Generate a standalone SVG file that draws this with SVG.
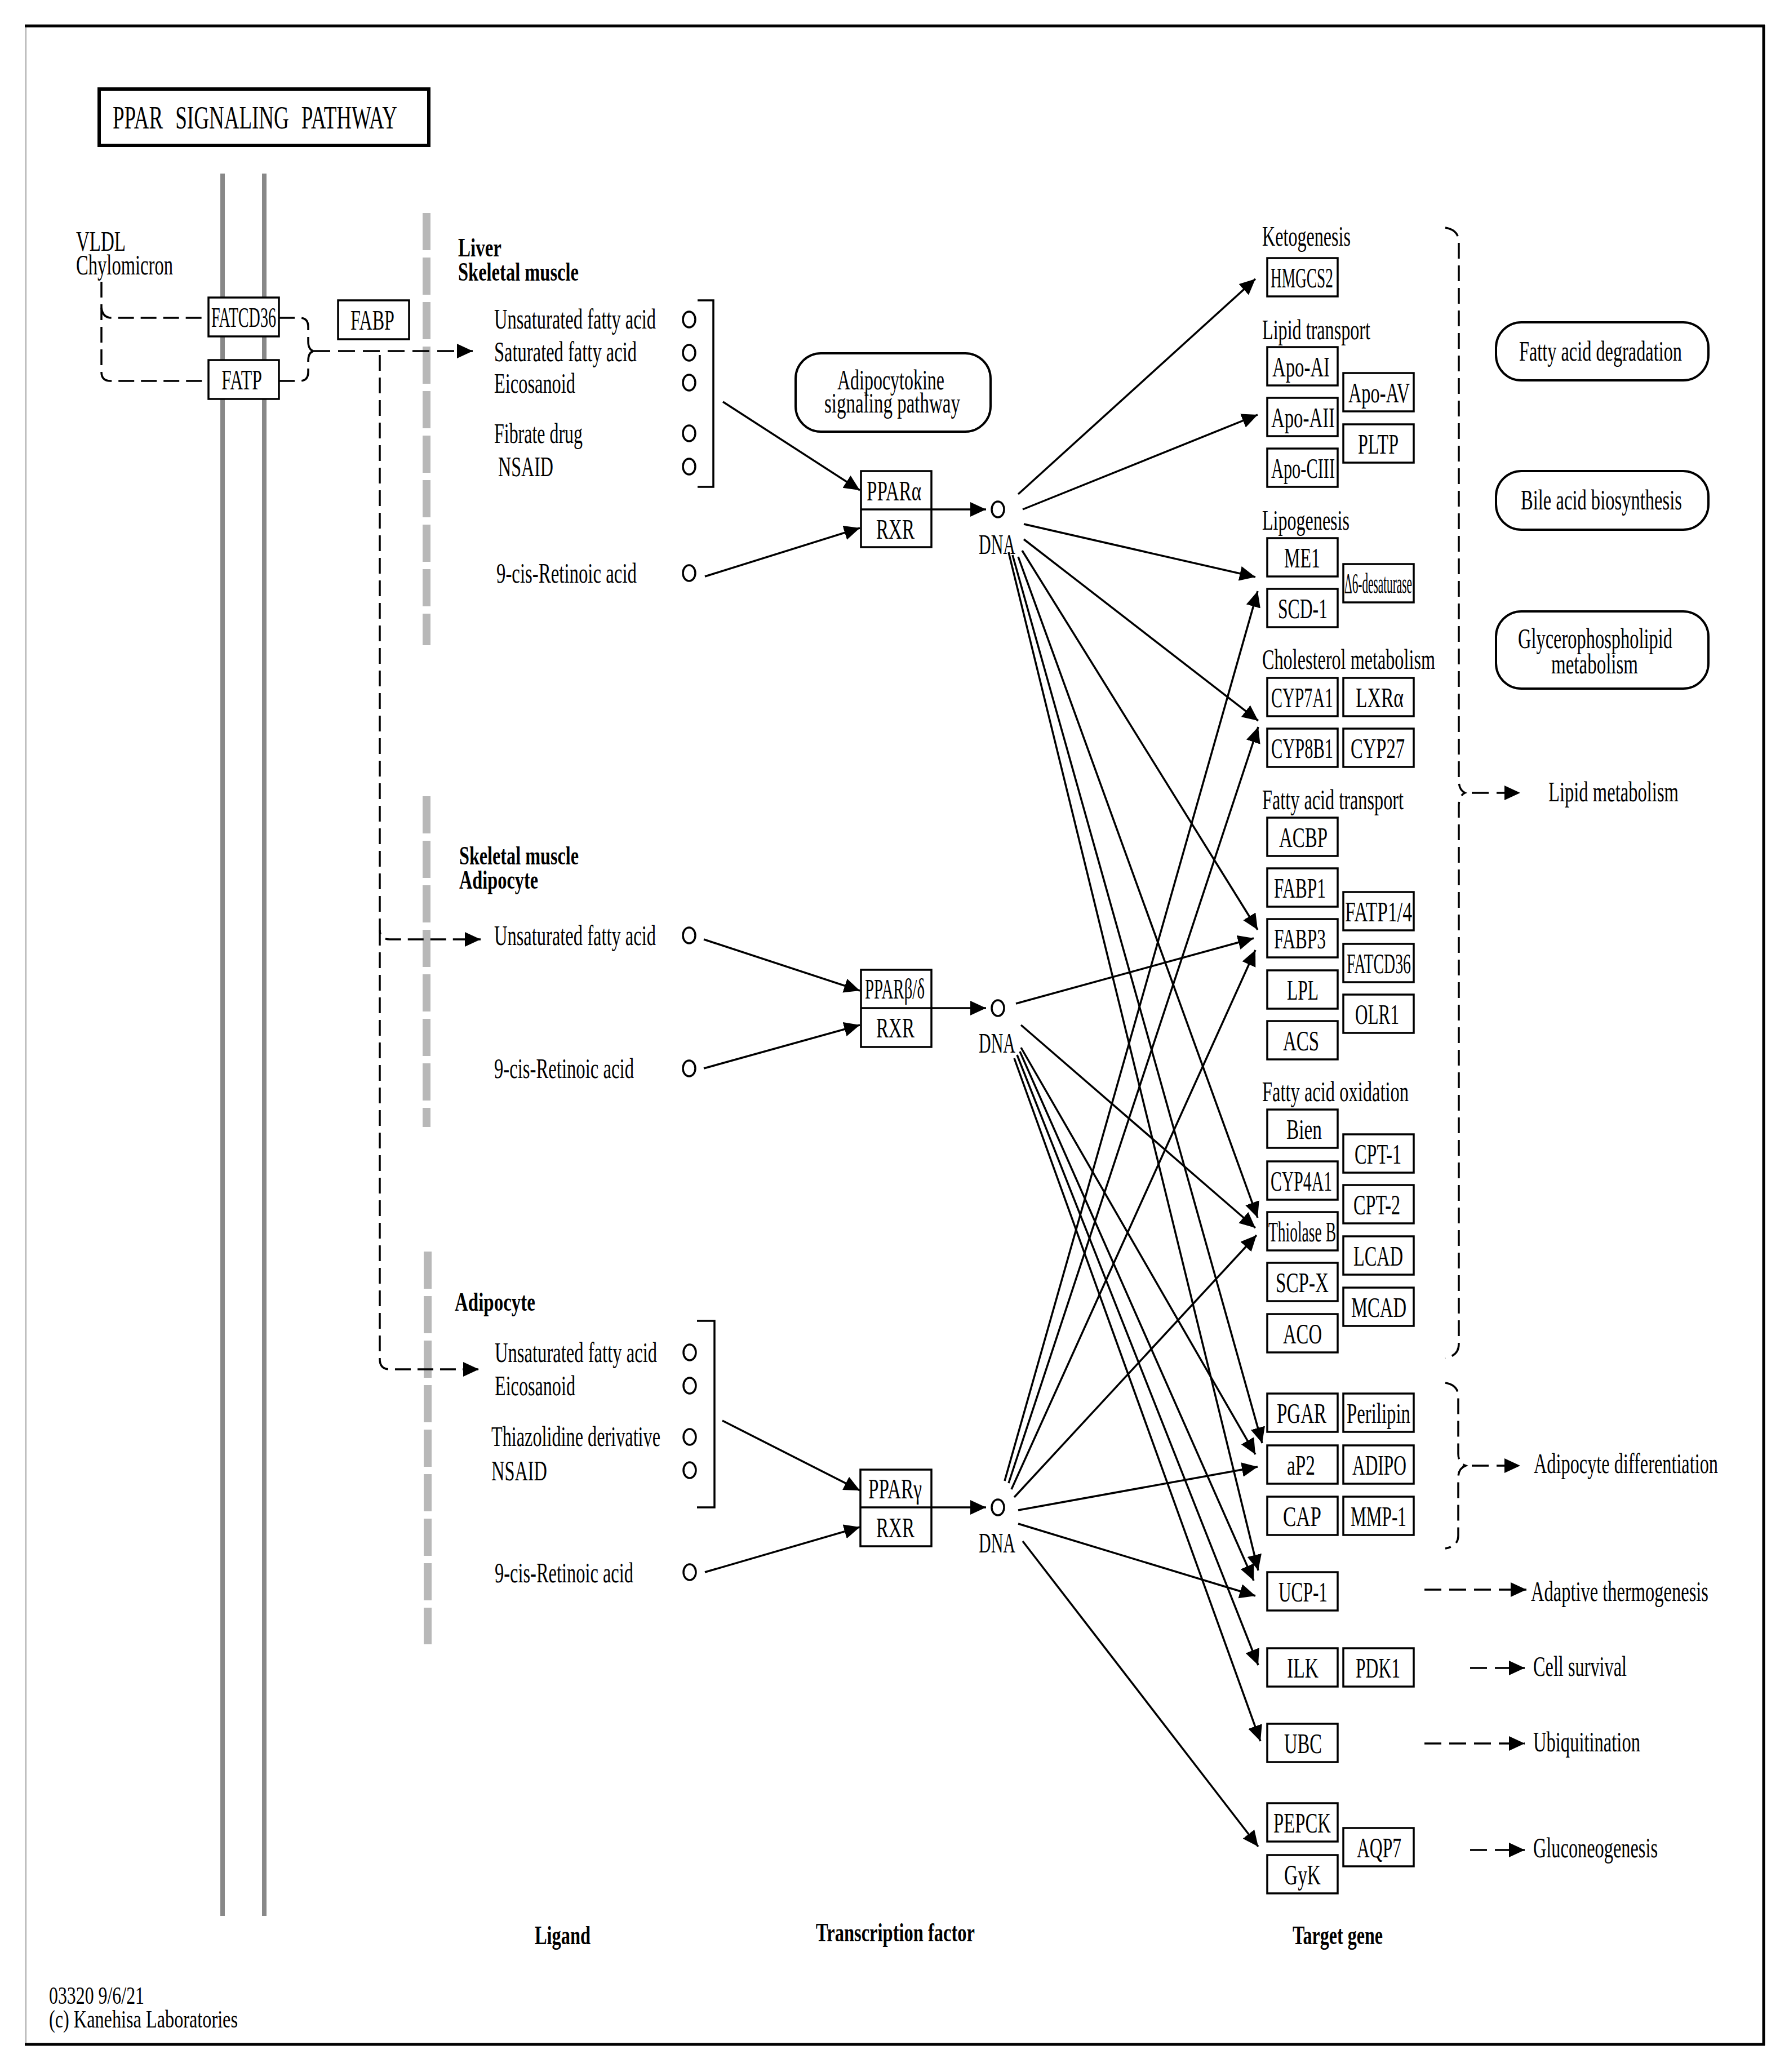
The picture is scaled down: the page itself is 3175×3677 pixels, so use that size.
<svg xmlns="http://www.w3.org/2000/svg" width="3175" height="3677" viewBox="0 0 3175 3677">
<style>
text{font-family:"Liberation Serif","Times New Roman",serif;font-size:50px;fill:#000}
.b{font-weight:bold;font-size:47px}
.tt{font-size:58px}
.box{fill:#fff;stroke:#000;stroke-width:3.5}
.rbox{fill:#fff;stroke:#000;stroke-width:4}
.ln{stroke:#000;stroke-width:3.5;fill:none;marker-end:url(#ah)}
.dl{stroke:#000;stroke-width:3.5;fill:none;stroke-dasharray:28 12}
.dla{stroke:#000;stroke-width:3.5;fill:none;stroke-dasharray:30 14;marker-end:url(#ah)}
.cir{fill:#fff;stroke:#000;stroke-width:3.5}
.mem{stroke:#888;stroke-width:8}
.cmp{stroke:#b8b8b8;stroke-width:14;stroke-dasharray:66 13}
</style>
<defs>
<marker id="ah" markerUnits="userSpaceOnUse" markerWidth="30" markerHeight="28" refX="28" refY="13" orient="auto"><path d="M0,0 L28,13 L0,26 z" fill="#000"/></marker>
</defs>
<rect x="0" y="0" width="3175" height="3677" fill="#fff"/>
<g id="frame">
<line x1="46" y1="46" x2="46" y2="3628" stroke="#aaa" stroke-width="2"/>
<line x1="44" y1="46" x2="3132" y2="46" stroke="#000" stroke-width="5"/>
<line x1="3130" y1="44" x2="3130" y2="3630" stroke="#000" stroke-width="5"/>
<line x1="44" y1="3628" x2="3132" y2="3628" stroke="#000" stroke-width="5"/>
</g>
<g id="title">
<rect x="176" y="158" width="585" height="100" fill="#fff" stroke="#000" stroke-width="6"/>
<text class="tt" x="200" y="228" textLength="505" lengthAdjust="spacingAndGlyphs" word-spacing="20">PPAR SIGNALING PATHWAY</text>
</g>
<g id="membrane">
<line class="mem" x1="395" y1="308" x2="395" y2="3400"/>
<line class="mem" x1="469" y1="308" x2="469" y2="3400"/>
</g>
<g id="compartments">
<line class="cmp" x1="757" y1="378" x2="757" y2="1145"/>
<line class="cmp" x1="757" y1="1413" x2="757" y2="2000"/>
<line class="cmp" x1="759" y1="2221" x2="759" y2="2918"/>
</g>
<g id="connectors">
<path class="dl" d="M180,500 V660 Q180,676 196,676 H370"/>
<path class="dl" d="M180,546 Q182,564 198,564 H370"/>
<path class="dl" d="M495,564 H532 Q547,564 547,580 V606 Q547,620 556,623"/>
<path class="dl" d="M495,676 H532 Q547,676 547,660 V640 Q547,626 556,623"/>
<line class="dla" x1="556" y1="623" x2="839" y2="623" stroke-width="4"/>
<path class="dl" d="M674,630 V1650 Q674,1667 692,1667 H853" marker-end="url(#ah)"/>
<path class="dl" d="M674,1650 V2412 Q674,2430 692,2430 H850" marker-end="url(#ah)"/>
<line class="ln" x1="1283" y1="713" x2="1526" y2="870"/>
<line class="ln" x1="1251" y1="1023" x2="1526" y2="937"/>
<line class="ln" x1="1653" y1="904" x2="1750" y2="904"/>
<line class="ln" x1="1249" y1="1667" x2="1526" y2="1758"/>
<line class="ln" x1="1249" y1="1896" x2="1526" y2="1819"/>
<line class="ln" x1="1653" y1="1789" x2="1750" y2="1789"/>
<line class="ln" x1="1282" y1="2521" x2="1526" y2="2645"/>
<line class="ln" x1="1251" y1="2790" x2="1526" y2="2710"/>
<line class="ln" x1="1653" y1="2675" x2="1750" y2="2675"/>
<line class="ln" x1="1807" y1="877" x2="2228" y2="495"/>
<line class="ln" x1="1815" y1="904" x2="2232" y2="736"/>
<line class="ln" x1="1817" y1="930" x2="2228" y2="1024"/>
<line class="ln" x1="1817" y1="957" x2="2233" y2="1279"/>
<line class="ln" x1="1814" y1="977" x2="2232" y2="1650"/>
<line class="ln" x1="1807" y1="988" x2="2232" y2="2161"/>
<line class="ln" x1="1797" y1="985" x2="2240" y2="2561"/>
<line class="ln" x1="1790" y1="980" x2="2233" y2="2787"/>
<line class="ln" x1="1803" y1="1781" x2="2225" y2="1665"/>
<line class="ln" x1="1812" y1="1819" x2="2228" y2="2179"/>
<line class="ln" x1="1812" y1="1859" x2="2228" y2="2581"/>
<line class="ln" x1="1810" y1="1866" x2="2225" y2="2805"/>
<line class="ln" x1="1805" y1="1872" x2="2233" y2="2955"/>
<line class="ln" x1="1800" y1="1878" x2="2237" y2="3090"/>
<line class="ln" x1="1783" y1="2628" x2="2232" y2="1049"/>
<line class="ln" x1="1790" y1="2632" x2="2233" y2="1290"/>
<line class="ln" x1="1795" y1="2643" x2="2228" y2="1686"/>
<line class="ln" x1="1800" y1="2657" x2="2230" y2="2192"/>
<line class="ln" x1="1807" y1="2680" x2="2232" y2="2603"/>
<line class="ln" x1="1807" y1="2704" x2="2228" y2="2832"/>
<line class="ln" x1="1815" y1="2735" x2="2233" y2="3277"/>
<path class="dl" d="M2565,404 Q2589,408 2589,430 V1385 Q2589,1402 2600,1407 Q2589,1412 2589,1430 V2385 Q2589,2406 2565,2410"/>
<path class="dl" d="M2565,2454 Q2588,2458 2588,2478 V2580 Q2588,2596 2601,2601 Q2588,2606 2588,2622 V2725 Q2588,2744 2565,2748"/>
<line class="dla" x1="2612" y1="1407" x2="2698" y2="1407"/>
<line class="dla" x1="2612" y1="2601" x2="2698" y2="2601"/>
<line class="dla" x1="2528" y1="2821" x2="2709" y2="2821"/>
<line class="dla" x1="2609" y1="2960" x2="2706" y2="2960"/>
<line class="dla" x1="2528" y1="3094" x2="2706" y2="3094"/>
<line class="dla" x1="2609" y1="3283" x2="2706" y2="3283"/>
<path d="M1238,533 H1266 V864 H1238" fill="none" stroke="#000" stroke-width="3.5"/>
<path d="M1237,2344 H1268 V2675 H1237" fill="none" stroke="#000" stroke-width="3.5"/>
</g>
<g id="vldl">
<text x="135" y="445" textLength="88" lengthAdjust="spacingAndGlyphs">VLDL</text>
<text x="135" y="487" textLength="172" lengthAdjust="spacingAndGlyphs">Chylomicron</text>
</g>
<g id="fatcd36"><rect class="box" x="370" y="528" width="125" height="69"/><text x="375" y="580" textLength="115" lengthAdjust="spacingAndGlyphs">FATCD36</text></g>
<g id="fatp"><rect class="box" x="370" y="639" width="125" height="69"/><text x="393" y="691" textLength="72" lengthAdjust="spacingAndGlyphs">FATP</text></g>
<g id="fabp"><rect class="box" x="600" y="533" width="126" height="69"/><text x="622" y="585" textLength="78" lengthAdjust="spacingAndGlyphs">FABP</text></g>
<g id="group1-ligands">
<text class="b" x="813" y="455" textLength="77" lengthAdjust="spacingAndGlyphs">Liver</text>
<text class="b" x="813" y="498" textLength="214" lengthAdjust="spacingAndGlyphs">Skeletal muscle</text>
<text x="877" y="583" textLength="287" lengthAdjust="spacingAndGlyphs">Unsaturated fatty acid</text>
<text x="877" y="641" textLength="253" lengthAdjust="spacingAndGlyphs">Saturated fatty acid</text>
<text x="877" y="697" textLength="144" lengthAdjust="spacingAndGlyphs">Eicosanoid</text>
<text x="877" y="786" textLength="157" lengthAdjust="spacingAndGlyphs">Fibrate drug</text>
<text x="884" y="845" textLength="98" lengthAdjust="spacingAndGlyphs">NSAID</text>
<text x="881" y="1034" textLength="249" lengthAdjust="spacingAndGlyphs">9-cis-Retinoic acid</text>
<ellipse class="cir" cx="1223" cy="567" rx="11" ry="14"/>
<ellipse class="cir" cx="1223" cy="626" rx="11" ry="14"/>
<ellipse class="cir" cx="1223" cy="679" rx="11" ry="14"/>
<ellipse class="cir" cx="1223" cy="769" rx="11" ry="14"/>
<ellipse class="cir" cx="1223" cy="828" rx="11" ry="14"/>
<ellipse class="cir" cx="1223" cy="1017" rx="11" ry="14"/>
</g>
<g id="group2-ligands">
<text class="b" x="815" y="1534" textLength="212" lengthAdjust="spacingAndGlyphs">Skeletal muscle</text>
<text class="b" x="815" y="1577" textLength="140" lengthAdjust="spacingAndGlyphs">Adipocyte</text>
<text x="877" y="1677" textLength="287" lengthAdjust="spacingAndGlyphs">Unsaturated fatty acid</text>
<text x="877" y="1913" textLength="248" lengthAdjust="spacingAndGlyphs">9-cis-Retinoic acid</text>
<ellipse class="cir" cx="1223" cy="1660" rx="11" ry="14"/>
<ellipse class="cir" cx="1223" cy="1896" rx="11" ry="14"/>
</g>
<g id="group3-ligands">
<text class="b" x="807" y="2326" textLength="143" lengthAdjust="spacingAndGlyphs">Adipocyte</text>
<text x="878" y="2417" textLength="288" lengthAdjust="spacingAndGlyphs">Unsaturated fatty acid</text>
<text x="878" y="2476" textLength="143" lengthAdjust="spacingAndGlyphs">Eicosanoid</text>
<text x="872" y="2566" textLength="300" lengthAdjust="spacingAndGlyphs">Thiazolidine derivative</text>
<text x="872" y="2627" textLength="99" lengthAdjust="spacingAndGlyphs">NSAID</text>
<text x="878" y="2808" textLength="246" lengthAdjust="spacingAndGlyphs">9-cis-Retinoic acid</text>
<ellipse class="cir" cx="1224" cy="2400" rx="11" ry="14"/>
<ellipse class="cir" cx="1224" cy="2459" rx="11" ry="14"/>
<ellipse class="cir" cx="1224" cy="2550" rx="11" ry="14"/>
<ellipse class="cir" cx="1224" cy="2609" rx="11" ry="14"/>
<ellipse class="cir" cx="1224" cy="2790" rx="11" ry="14"/>
</g>
<g id="adipocytokine">
<rect class="rbox" x="1412" y="627" width="346" height="139" rx="45" ry="45"/>
<text x="1486" y="691" textLength="190" lengthAdjust="spacingAndGlyphs">Adipocytokine</text>
<text x="1463" y="732" textLength="241" lengthAdjust="spacingAndGlyphs">signaling pathway</text>
</g>
<g id="ppar-alpha">
<rect class="box" x="1528" y="836" width="125" height="135"/>
<line x1="1528" y1="904" x2="1653" y2="904" stroke="#000" stroke-width="3.5"/>
<text x="1538" y="888" textLength="97" lengthAdjust="spacingAndGlyphs">PPARα</text>
<text x="1555" y="956" textLength="68" lengthAdjust="spacingAndGlyphs">RXR</text>
</g>
<g id="ppar-bd">
<rect class="box" x="1528" y="1721" width="125" height="137"/>
<line x1="1528" y1="1789" x2="1653" y2="1789" stroke="#000" stroke-width="3.5"/>
<text x="1535" y="1772" textLength="106" lengthAdjust="spacingAndGlyphs">PPARβ/δ</text>
<text x="1555" y="1841" textLength="68" lengthAdjust="spacingAndGlyphs">RXR</text>
</g>
<g id="ppar-gamma">
<rect class="box" x="1527" y="2608" width="126" height="136"/>
<line x1="1527" y1="2675" x2="1653" y2="2675" stroke="#000" stroke-width="3.5"/>
<text x="1541" y="2659" textLength="95" lengthAdjust="spacingAndGlyphs">PPARγ</text>
<text x="1555" y="2728" textLength="68" lengthAdjust="spacingAndGlyphs">RXR</text>
</g>
<g id="dna1"><ellipse class="cir" cx="1771" cy="904" rx="11" ry="14"/><text x="1737" y="983" textLength="65" lengthAdjust="spacingAndGlyphs">DNA</text></g>
<g id="dna2"><ellipse class="cir" cx="1771" cy="1789" rx="11" ry="14"/><text x="1737" y="1868" textLength="65" lengthAdjust="spacingAndGlyphs">DNA</text></g>
<g id="dna3"><ellipse class="cir" cx="1771" cy="2675" rx="11" ry="14"/><text x="1737" y="2755" textLength="65" lengthAdjust="spacingAndGlyphs">DNA</text></g>
<g id="category-labels">
<text x="2240" y="436" textLength="157" lengthAdjust="spacingAndGlyphs">Ketogenesis</text>
<text x="2240" y="602" textLength="192" lengthAdjust="spacingAndGlyphs">Lipid transport</text>
<text x="2240" y="940" textLength="155" lengthAdjust="spacingAndGlyphs">Lipogenesis</text>
<text x="2240" y="1187" textLength="307" lengthAdjust="spacingAndGlyphs">Cholesterol metabolism</text>
<text x="2240" y="1436" textLength="251" lengthAdjust="spacingAndGlyphs">Fatty acid transport</text>
<text x="2240" y="1954" textLength="260" lengthAdjust="spacingAndGlyphs">Fatty acid oxidation</text>
</g>
<g id="hmgcs2"><rect class="box" x="2249" y="458" width="125" height="68"/><text x="2255" y="510" textLength="111" lengthAdjust="spacingAndGlyphs">HMGCS2</text></g>
<g id="apo-ai"><rect class="box" x="2249" y="616" width="125" height="68"/><text x="2258" y="668" textLength="102" lengthAdjust="spacingAndGlyphs">Apo-AI</text></g>
<g id="apo-aii"><rect class="box" x="2249" y="706" width="125" height="68"/><text x="2256" y="758" textLength="113" lengthAdjust="spacingAndGlyphs">Apo-AII</text></g>
<g id="apo-ciii"><rect class="box" x="2249" y="796" width="125" height="68"/><text x="2256" y="848" textLength="113" lengthAdjust="spacingAndGlyphs">Apo-CIII</text></g>
<g id="apo-av"><rect class="box" x="2384" y="662" width="125" height="68"/><text x="2393" y="714" textLength="109" lengthAdjust="spacingAndGlyphs">Apo-AV</text></g>
<g id="pltp"><rect class="box" x="2384" y="753" width="125" height="68"/><text x="2410" y="805" textLength="72" lengthAdjust="spacingAndGlyphs">PLTP</text></g>
<g id="me1"><rect class="box" x="2249" y="955" width="125" height="68"/><text x="2279" y="1007" textLength="64" lengthAdjust="spacingAndGlyphs">ME1</text></g>
<g id="scd1"><rect class="box" x="2249" y="1045" width="125" height="68"/><text x="2268" y="1097" textLength="88" lengthAdjust="spacingAndGlyphs">SCD-1</text></g>
<g id="d6desaturase"><rect class="box" x="2384" y="1001" width="125" height="68"/><text x="2386" y="1052" textLength="120" lengthAdjust="spacingAndGlyphs">Δ6-desaturase</text></g>
<g id="cyp7a1"><rect class="box" x="2249" y="1203" width="125" height="68"/><text x="2256" y="1255" textLength="110" lengthAdjust="spacingAndGlyphs">CYP7A1</text></g>
<g id="lxra"><rect class="box" x="2384" y="1203" width="125" height="68"/><text x="2406" y="1255" textLength="85" lengthAdjust="spacingAndGlyphs">LXRα</text></g>
<g id="cyp8b1"><rect class="box" x="2249" y="1293" width="125" height="68"/><text x="2256" y="1345" textLength="110" lengthAdjust="spacingAndGlyphs">CYP8B1</text></g>
<g id="cyp27"><rect class="box" x="2384" y="1293" width="125" height="68"/><text x="2397" y="1345" textLength="96" lengthAdjust="spacingAndGlyphs">CYP27</text></g>
<g id="acbp"><rect class="box" x="2249" y="1451" width="125" height="68"/><text x="2270" y="1503" textLength="86" lengthAdjust="spacingAndGlyphs">ACBP</text></g>
<g id="fabp1"><rect class="box" x="2249" y="1541" width="125" height="68"/><text x="2261" y="1593" textLength="92" lengthAdjust="spacingAndGlyphs">FABP1</text></g>
<g id="fabp3"><rect class="box" x="2249" y="1631" width="125" height="68"/><text x="2261" y="1683" textLength="92" lengthAdjust="spacingAndGlyphs">FABP3</text></g>
<g id="lpl"><rect class="box" x="2249" y="1722" width="125" height="68"/><text x="2284" y="1774" textLength="56" lengthAdjust="spacingAndGlyphs">LPL</text></g>
<g id="acs"><rect class="box" x="2249" y="1812" width="125" height="68"/><text x="2277" y="1864" textLength="64" lengthAdjust="spacingAndGlyphs">ACS</text></g>
<g id="fatp14"><rect class="box" x="2384" y="1583" width="125" height="68"/><text x="2387" y="1635" textLength="119" lengthAdjust="spacingAndGlyphs">FATP1/4</text></g>
<g id="fatcd36-t"><rect class="box" x="2384" y="1675" width="125" height="68"/><text x="2390" y="1727" textLength="114" lengthAdjust="spacingAndGlyphs">FATCD36</text></g>
<g id="olr1"><rect class="box" x="2384" y="1765" width="125" height="68"/><text x="2405" y="1817" textLength="78" lengthAdjust="spacingAndGlyphs">OLR1</text></g>
<g id="bien"><rect class="box" x="2249" y="1969" width="125" height="68"/><text x="2283" y="2021" textLength="63" lengthAdjust="spacingAndGlyphs">Bien</text></g>
<g id="cyp4a1"><rect class="box" x="2249" y="2061" width="125" height="68"/><text x="2255" y="2113" textLength="109" lengthAdjust="spacingAndGlyphs">CYP4A1</text></g>
<g id="thiolaseb"><rect class="box" x="2249" y="2151" width="125" height="68"/><text x="2251" y="2203" textLength="120" lengthAdjust="spacingAndGlyphs">Thiolase B</text></g>
<g id="scpx"><rect class="box" x="2249" y="2241" width="125" height="68"/><text x="2264" y="2293" textLength="94" lengthAdjust="spacingAndGlyphs">SCP-X</text></g>
<g id="aco"><rect class="box" x="2249" y="2332" width="125" height="68"/><text x="2277" y="2384" textLength="69" lengthAdjust="spacingAndGlyphs">ACO</text></g>
<g id="cpt1"><rect class="box" x="2384" y="2013" width="125" height="68"/><text x="2404" y="2065" textLength="83" lengthAdjust="spacingAndGlyphs">CPT-1</text></g>
<g id="cpt2"><rect class="box" x="2384" y="2103" width="125" height="68"/><text x="2402" y="2155" textLength="83" lengthAdjust="spacingAndGlyphs">CPT-2</text></g>
<g id="lcad"><rect class="box" x="2384" y="2194" width="125" height="68"/><text x="2402" y="2246" textLength="88" lengthAdjust="spacingAndGlyphs">LCAD</text></g>
<g id="mcad"><rect class="box" x="2384" y="2285" width="125" height="68"/><text x="2398" y="2337" textLength="98" lengthAdjust="spacingAndGlyphs">MCAD</text></g>
<g id="pgar"><rect class="box" x="2249" y="2473" width="125" height="68"/><text x="2266" y="2525" textLength="88" lengthAdjust="spacingAndGlyphs">PGAR</text></g>
<g id="perilipin"><rect class="box" x="2384" y="2473" width="125" height="68"/><text x="2390" y="2525" textLength="113" lengthAdjust="spacingAndGlyphs">Perilipin</text></g>
<g id="ap2"><rect class="box" x="2249" y="2565" width="125" height="68"/><text x="2284" y="2617" textLength="50" lengthAdjust="spacingAndGlyphs">aP2</text></g>
<g id="adipo"><rect class="box" x="2384" y="2565" width="125" height="68"/><text x="2400" y="2617" textLength="96" lengthAdjust="spacingAndGlyphs">ADIPO</text></g>
<g id="cap"><rect class="box" x="2249" y="2656" width="125" height="68"/><text x="2277" y="2708" textLength="68" lengthAdjust="spacingAndGlyphs">CAP</text></g>
<g id="mmp1"><rect class="box" x="2384" y="2656" width="125" height="68"/><text x="2397" y="2708" textLength="99" lengthAdjust="spacingAndGlyphs">MMP-1</text></g>
<g id="ucp1"><rect class="box" x="2249" y="2790" width="125" height="68"/><text x="2269" y="2842" textLength="87" lengthAdjust="spacingAndGlyphs">UCP-1</text></g>
<g id="ilk"><rect class="box" x="2249" y="2925" width="125" height="68"/><text x="2284" y="2977" textLength="56" lengthAdjust="spacingAndGlyphs">ILK</text></g>
<g id="pdk1"><rect class="box" x="2384" y="2925" width="125" height="68"/><text x="2406" y="2977" textLength="79" lengthAdjust="spacingAndGlyphs">PDK1</text></g>
<g id="ubc"><rect class="box" x="2249" y="3059" width="125" height="68"/><text x="2279" y="3111" textLength="67" lengthAdjust="spacingAndGlyphs">UBC</text></g>
<g id="pepck"><rect class="box" x="2249" y="3200" width="125" height="68"/><text x="2260" y="3252" textLength="102" lengthAdjust="spacingAndGlyphs">PEPCK</text></g>
<g id="gyk"><rect class="box" x="2249" y="3292" width="125" height="68"/><text x="2279" y="3344" textLength="65" lengthAdjust="spacingAndGlyphs">GyK</text></g>
<g id="aqp7"><rect class="box" x="2384" y="3244" width="125" height="68"/><text x="2408" y="3296" textLength="79" lengthAdjust="spacingAndGlyphs">AQP7</text></g>
<g id="fa-degradation"><rect class="rbox" x="2655" y="572" width="377" height="103" rx="45" ry="45"/><text x="2696" y="640" textLength="289" lengthAdjust="spacingAndGlyphs">Fatty acid degradation</text></g>
<g id="bile-acid"><rect class="rbox" x="2655" y="836" width="377" height="104" rx="45" ry="45"/><text x="2699" y="904" textLength="286" lengthAdjust="spacingAndGlyphs">Bile acid biosynthesis</text></g>
<g id="glycerophospholipid"><rect class="rbox" x="2655" y="1085" width="377" height="137" rx="45" ry="45"/><text x="2694" y="1150" textLength="274" lengthAdjust="spacingAndGlyphs">Glycerophospholipid</text><text x="2753" y="1195" textLength="154" lengthAdjust="spacingAndGlyphs">metabolism</text></g>
<g id="outcomes">
<text x="2748" y="1422" textLength="231" lengthAdjust="spacingAndGlyphs">Lipid metabolism</text>
<text x="2722" y="2614" textLength="327" lengthAdjust="spacingAndGlyphs">Adipocyte differentiation</text>
<text x="2717" y="2841" textLength="315" lengthAdjust="spacingAndGlyphs">Adaptive thermogenesis</text>
<text x="2721" y="2974" textLength="166" lengthAdjust="spacingAndGlyphs">Cell survival</text>
<text x="2721" y="3108" textLength="190" lengthAdjust="spacingAndGlyphs">Ubiquitination</text>
<text x="2721" y="3296" textLength="221" lengthAdjust="spacingAndGlyphs">Gluconeogenesis</text>
</g>
<g id="column-labels">
<text class="b" x="949" y="3450" textLength="99" lengthAdjust="spacingAndGlyphs">Ligand</text>
<text class="b" x="1448" y="3445" textLength="282" lengthAdjust="spacingAndGlyphs">Transcription factor</text>
<text class="b" x="2294" y="3450" textLength="160" lengthAdjust="spacingAndGlyphs">Target gene</text>
</g>
<g id="footer">
<text x="87" y="3556" textLength="169" lengthAdjust="spacingAndGlyphs" style="font-size:44px">03320 9/6/21</text>
<text x="87" y="3598" textLength="335" lengthAdjust="spacingAndGlyphs" style="font-size:44px">(c) Kanehisa Laboratories</text>
</g>
</svg>
